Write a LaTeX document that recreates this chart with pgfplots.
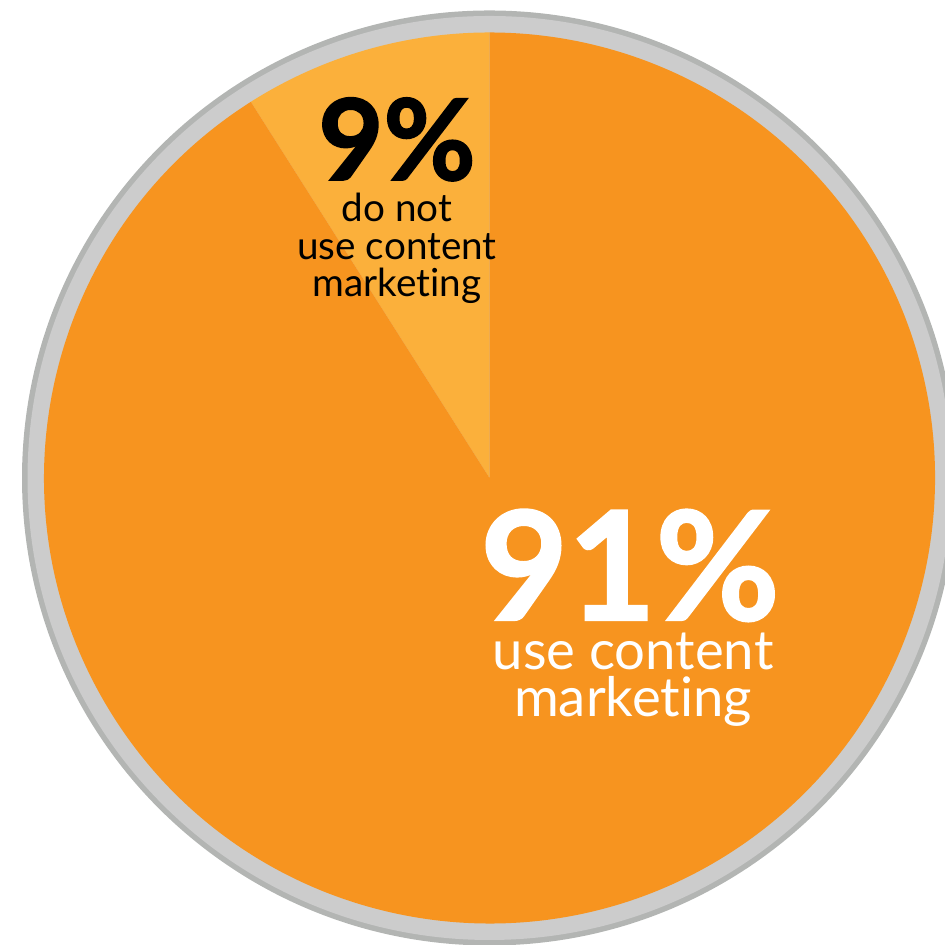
\documentclass[border=0pt]{standalone}
\usepackage{pgfplots}
\pgfplotsset{compat=1.18}
\usepackage{fontspec}
\setmainfont{Lato}[Ligatures={NoCommon,NoContextual}]
\newfontfamily\heavyfont{Lato}[BoldFeatures={FakeBold=1.6}]

\definecolor{pieorange}{HTML}{F7941F}
\definecolor{pielight}{HTML}{FBB03B}
\definecolor{ringgray}{HTML}{CCCCCC}
\definecolor{ringedge}{HTML}{B3B5B3}

% shares in percent
\def\shareUse{91}
\def\shareNot{9}

\begin{document}
\begin{tikzpicture}
\begin{axis}[
  scale only axis,
  width=9.44cm, height=9.45cm,
  xmin=0, xmax=944,
  ymin=0, ymax=945,
  hide axis,
  clip=false,
]
% ring round the pie
\fill[ringedge] (axis cs:489.5,467) circle[radius=4.675cm];
\fill[ringgray] (axis cs:489.5,467) circle[radius=4.62cm];

% slices, starting at 12 o'clock and going counter-clockwise
\pgfmathsetmacro{\aEnd}{90+3.6*\shareNot}
\fill[pielight] (axis cs:489.5,467) -- ++(90:4.455cm)
  arc[start angle=90, end angle=\aEnd, radius=4.455cm] -- cycle;
\fill[pieorange] (axis cs:489.5,467) -- ++(\aEnd:4.455cm)
  arc[start angle=\aEnd, end angle=450, radius=4.455cm] -- cycle;

% labels
\tikzset{lbl/.style={anchor=base, inner sep=0pt}}
\node[lbl, font=\fontsize{32}{32}\selectfont\heavyfont\bfseries, text=black]
  at (axis cs:397,765) {\shareNot\%};
\node[lbl, font=\fontsize{11}{11}\selectfont, text=black]
  at (axis cs:397,723) {do not};
\node[lbl, font=\fontsize{11}{11}\selectfont, text=black]
  at (axis cs:397,685) {use content};
\node[lbl, font=\fontsize{11}{11}\selectfont, text=black]
  at (axis cs:397,648) {marketing};

\node[lbl, font=\fontsize{43}{43}\selectfont\heavyfont\bfseries, text=white]
  at (axis cs:630,325) {\shareUse\%};
\node[lbl, font=\fontsize{15.5}{15.5}\selectfont, text=white]
  at (axis cs:633,275) {use content};
\node[lbl, font=\fontsize{15.5}{15.5}\selectfont, text=white]
  at (axis cs:633,228) {marketing};
\end{axis}
\pgfresetboundingbox
\path[use as bounding box] (0,0) rectangle (9.44cm,9.45cm);
\end{tikzpicture}
\end{document}
